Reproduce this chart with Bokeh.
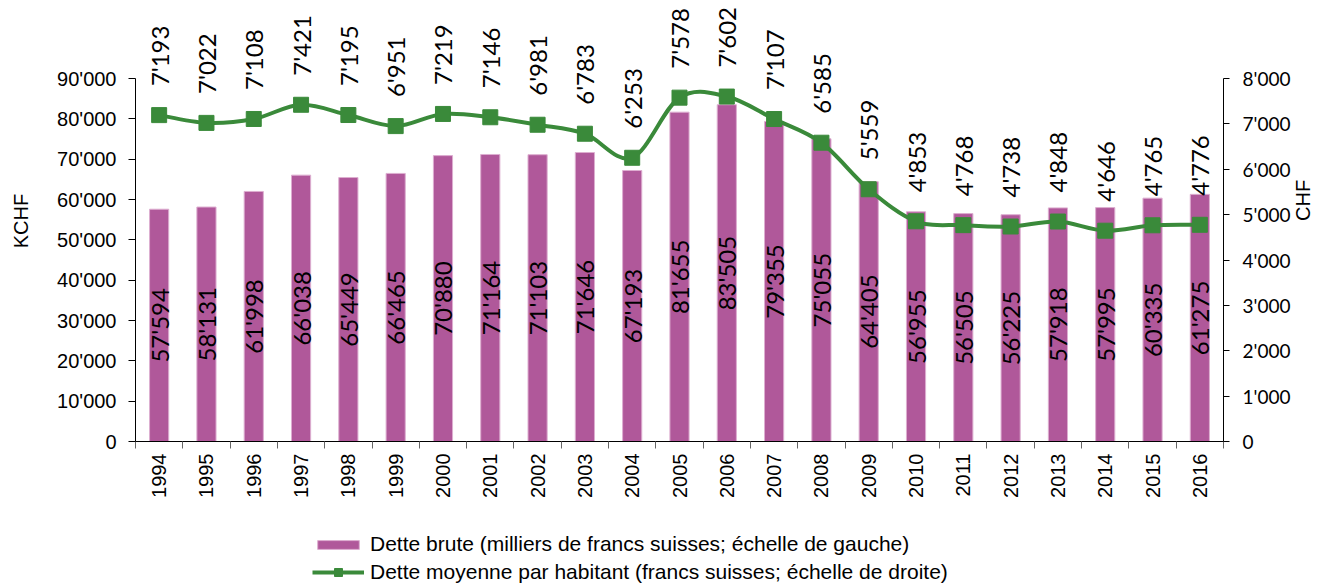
import numpy as np
from bokeh.plotting import figure
from bokeh.layouts import column
from bokeh.models import Range1d, LinearAxis, FixedTicker, ColumnDataSource, Legend, LegendItem
from bokeh.core.properties import value
from bokeh.embed import file_html
from bokeh.resources import INLINE

# ---------------- data ----------------
years = ["1994", "1995", "1996", "1997", "1998", "1999", "2000", "2001", "2002",
         "2003", "2004", "2005", "2006", "2007", "2008", "2009", "2010", "2011",
         "2012", "2013", "2014", "2015", "2016"]
gross_debt = [57594, 58131, 61998, 66038, 65449, 66465, 70880, 71164, 71103,
              71646, 67193, 81655, 83505, 79355, 75055, 64405, 56955, 56505,
              56225, 57918, 57995, 60335, 61275]
debt_per_capita = [7193, 7022, 7108, 7421, 7195, 6951, 7219, 7146, 6981,
                   6783, 6253, 7578, 7602, 7107, 6585, 5559, 4853, 4768,
                   4738, 4848, 4646, 4765, 4776]
left_ticks = [0, 10000, 20000, 30000, 40000, 50000, 60000, 70000, 80000, 90000]
right_ticks = [0, 1000, 2000, 3000, 4000, 5000, 6000, 7000, 8000]
label_bar = "Dette brute (milliers de francs suisses; échelle de gauche)"
label_line = "Dette moyenne par habitant (francs suisses; échelle de droite)"

def fmt(v):
    return f"{v:,}".replace(",", "'")

# ---------------- layout constants ----------------
W = 1328
H_MAIN, H_LEG = 530, 54
FRAME_H = 441          # frame height in px (frame top at the figure top)
AXIS_H = 363           # px from 0 to 90'000
LEFT_MAX = left_ticks[-1] * FRAME_H / AXIS_H
RIGHT_MAX = right_ticks[-1] * FRAME_H / AXIS_H

PURPLE = "#B0589A"
PURPLE_EDGE = "#DDAED0"
GREEN = "#3A8A3A"

n = len(years)
xs = np.arange(n) + 0.5

p = figure(width=W, height=H_MAIN, output_backend="svg", toolbar_location=None,
           x_range=Range1d(0, n), y_range=Range1d(0, LEFT_MAX),
           min_border_left=135, min_border_right=96, min_border_top=0,
           min_border_bottom=H_MAIN - FRAME_H)
p.extra_y_ranges = {"chf": Range1d(0, RIGHT_MAX)}
p.xgrid.visible = False
p.ygrid.visible = False
p.outline_line_color = None
p.background_fill_color = "white"

# bars
src = ColumnDataSource(dict(x=xs, top=gross_debt, mid=[v / 2 for v in gross_debt],
                            lab=[fmt(v) for v in gross_debt]))
p.vbar(x="x", top="top", width=0.405, source=src, fill_color=PURPLE,
       line_color=PURPLE_EDGE, line_width=1)
p.text(x="x", y="mid", text="lab", source=src, angle=np.pi / 2,
       text_align="center", text_baseline="middle", text_color="black",
       text_font=value("Lato"), text_font_size="24px")

# smoothed line (Catmull-Rom style Bezier through the data points)
yl = np.array(debt_per_capita, dtype=float)
xp = np.concatenate([[xs[0]], xs, [xs[-1]]])
yp = np.concatenate([[yl[0]], yl, [yl[-1]]])
bz = dict(x0=xs[:-1], y0=yl[:-1], x1=xs[1:], y1=yl[1:],
          cx0=xs[:-1] + (xp[2:-1] - xp[:-3]) / 6, cy0=yl[:-1] + (yp[2:-1] - yp[:-3]) / 6,
          cx1=xs[1:] - (xp[3:] - xp[1:-2]) / 6, cy1=yl[1:] - (yp[3:] - yp[1:-2]) / 6)
p.bezier(source=ColumnDataSource(bz), x0="x0", y0="y0", x1="x1", y1="y1",
         cx0="cx0", cy0="cy0", cx1="cx1", cy1="cy1",
         line_color=GREEN, line_width=4, y_range_name="chf")
lsrc = ColumnDataSource(dict(x=xs, y=debt_per_capita, lab=[fmt(v) for v in debt_per_capita]))
p.scatter(x="x", y="y", source=lsrc, marker="square", size=15,
          fill_color=GREEN, line_color=GREEN, y_range_name="chf")
p.text(x="x", y="y", text="lab", source=lsrc, angle=np.pi / 2, y_offset=-29,
       text_align="left", text_baseline="middle", text_color="black",
       text_font=value("Lato"), text_font_size="24px", y_range_name="chf")

# x axis
xa = p.xaxis[0]
xa.ticker = FixedTicker(ticks=list(xs), minor_ticks=list(range(n + 1)))
xa.major_label_overrides = {float(x): y for x, y in zip(xs, years)}
xa.major_label_orientation = np.pi / 2
xa.major_tick_line_color = None
xa.major_tick_out = 6
xa.major_tick_in = 0
xa.minor_tick_out = 7
xa.minor_tick_in = 0
xa.minor_tick_line_color = "#666666"
xa.major_label_standoff = 5
xa.axis_line_color = "black"
xa.major_label_text_font = "Liberation Sans"
xa.major_label_text_font_size = "20px"
xa.major_label_text_color = "black"

# left axis
ya = p.yaxis[0]
ya.ticker = FixedTicker(ticks=left_ticks, minor_ticks=[])
ya.major_label_overrides = {v: fmt(v) for v in left_ticks}
ya.bounds = (0, left_ticks[-1])
ya.major_tick_out = 7
ya.major_tick_in = 0
ya.major_label_standoff = 12
ya.major_label_text_font = "Liberation Sans"
ya.major_label_text_font_size = "20px"
ya.major_label_text_color = "black"
ya.axis_label = "KCHF"
ya.axis_label_text_font = "Liberation Sans"
ya.axis_label_text_font_size = "20px"
ya.axis_label_text_font_style = "normal"
ya.axis_label_text_color = "black"
ya.axis_label_standoff = 22

# right axis
ra = LinearAxis(y_range_name="chf", ticker=FixedTicker(ticks=right_ticks, minor_ticks=[]))
ra.major_label_overrides = {v: fmt(v) for v in right_ticks}
ra.bounds = (0, right_ticks[-1])
ra.major_tick_out = 6
ra.major_tick_in = 0
ra.major_label_standoff = 13
ra.major_label_text_font = "Lato"
ra.major_label_text_font_size = "19px"
ra.major_label_text_color = "black"
ra.axis_label = "CHF"
ra.axis_label_text_font = "Liberation Sans"
ra.axis_label_text_font_size = "20px"
ra.axis_label_text_font_style = "normal"
ra.axis_label_text_color = "black"
ra.axis_label_standoff = 10
ra.axis_label_orientation = np.pi / 2
p.add_layout(ra, "right")

# ---------------- legend strip ----------------
q = figure(width=W, height=H_LEG, output_backend="svg", toolbar_location=None,
           x_range=Range1d(0, W), y_range=Range1d(0, H_LEG),
           min_border=0, x_axis_location=None, y_axis_location=None)
q.xgrid.visible = False
q.ygrid.visible = False
q.outline_line_color = None
# proxies without drawable coordinates, used only for the legend swatches
lb = q.vbar(x=[np.nan], top=[np.nan], width=1, fill_color=PURPLE, line_color=PURPLE_EDGE, line_width=1)
ll = q.line(x=[np.nan, np.nan], y=[np.nan, np.nan], line_color=GREEN, line_width=4)
lm = q.scatter(x=[np.nan], y=[np.nan], marker="square", size=15, fill_color=GREEN, line_color=GREEN)

common = dict(padding=0, margin=0, spacing=0, label_standoff=6, glyph_width=52,
              border_line_color=None, background_fill_alpha=0,
              label_text_font="Liberation Sans", label_text_font_size="21px",
              label_text_color="black")
leg1 = Legend(items=[LegendItem(label=label_bar, renderers=[lb])],
              location=(177, 28), glyph_height=11, **common)
leg2 = Legend(items=[LegendItem(label=label_line, renderers=[ll, lm])],
              location=(177, 0), glyph_height=20, **common)
q.add_layout(leg1, "center")
q.add_layout(leg2, "center")

layout = column(p, q, spacing=0)
open("out.html", "w").write(file_html(layout, INLINE))
